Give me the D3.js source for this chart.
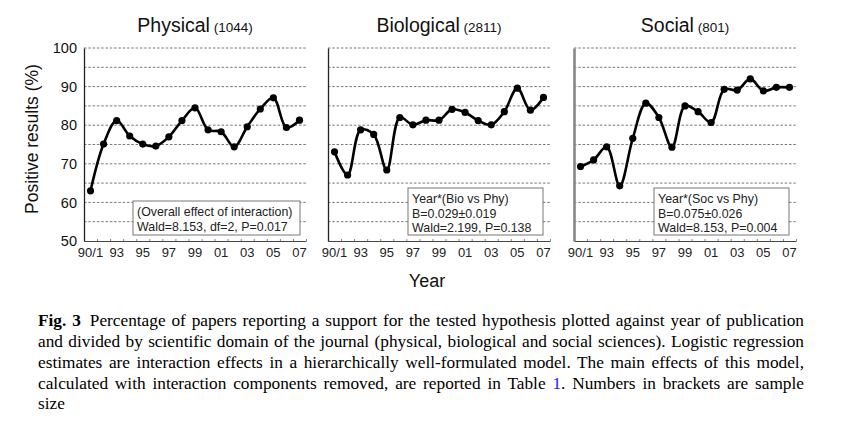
<!DOCTYPE html>
<html><head><meta charset="utf-8">
<script src="https://cdn.jsdelivr.net/npm/d3@7"></script>
<style>
html,body{margin:0;padding:0;background:#fff;}
svg{display:block;}
</style></head>
<body>
<svg id="chart" width="842" height="425"></svg>
<script>
const years = ["90/1","92","93","94","95","96","97","98","99","00","01","02","03","04","05","06","07"];
const tickLabels = ["90/1","93","95","97","99","01","03","05","07"];
const yTicks = [50,60,70,80,90,100];
const gridValues = [55,60,65,70,75,80,85,90,95,100];
const physical   = [63.0,75.1,81.2,77.2,75.1,74.6,77.0,81.2,84.5,78.8,78.3,74.4,79.6,84.2,87.1,79.4,81.3];
const biological = [73.1,67.1,78.8,77.6,68.4,82.0,80.1,81.3,81.3,84.1,83.3,81.2,80.1,83.5,89.6,83.9,87.2];
const social     = [69.3,71.0,74.4,64.3,76.6,85.7,82.0,74.3,85.0,83.5,80.7,89.3,89.1,92.0,88.9,89.8,89.8];
const panelNames = ["Physical","Biological","Social"];
const sampleSizes = ["(1044)","(2811)","(801)"];
const boxTexts = [
  ["(Overall effect of interaction)","Wald=8.153, df=2, P=0.017"],
  ["Year*(Bio vs Phy)","B=0.029\u00B10.019","Wald=2.199, P=0.138"],
  ["Year*(Soc vs Phy)","B=0.075\u00B10.026","Wald=8.153, P=0.004"]
];
const captionLines = [
  "Percentage of papers reporting a support for the tested hypothesis plotted against year of publication",
  "and divided by scientific domain of the journal (physical, biological and social sciences). Logistic regression",
  "estimates are interaction effects in a hierarchically well-formulated model. The main effects of this model,",
  "calculated with interaction components removed, are reported in Table ",
  "size"
];

const series = [physical, biological, social];
const svg = d3.select("#chart");
const sans = "'Liberation Sans', Arial, Helvetica, sans-serif";
const serif = "'Liberation Serif', 'Times New Roman', Times, serif";

const panelX = [84, 328, 574];
const panelW = 222;
const y = d3.scaleLinear().domain([50,100]).range([241,48]);

const boxes = [
  {x:133, y:201, w:167, h:34},
  {x:408, y:188, w:135, h:47},
  {x:654, y:188, w:135, h:47}
];

series.forEach((vals, p) => {
  const x0 = panelX[p];
  const x = d3.scaleLinear().domain([-0.5, years.length - 0.5]).range([x0, x0 + panelW]);
  const g = svg.append("g");

  g.selectAll("line.grid").data(gridValues).join("line")
    .attr("x1", x0).attr("x2", x0 + panelW)
    .attr("y1", d => y(d)).attr("y2", d => y(d))
    .attr("stroke", "#555").attr("stroke-width", 0.8)
    .attr("stroke-dasharray", "2.5,1.8");

  const xAxis = d3.axisBottom(x)
    .tickValues(d3.range(0, years.length + 1).map(i => i - 0.5))
    .tickSize(-2).tickSizeOuter(0).tickFormat("");
  const ax = g.append("g").attr("transform", `translate(0,${y(50)})`).call(xAxis);
  ax.select(".domain").attr("stroke", "#444").attr("stroke-width", 1.2);
  ax.selectAll(".tick line").attr("stroke", "#666").attr("stroke-width", 0.8);

  g.selectAll("text.xl").data(years.map((d,i)=>({d,i})).filter(o => tickLabels.includes(o.d))).join("text")
    .attr("x", o => x(o.i)).attr("y", 257)
    .attr("text-anchor", "middle")
    .attr("font-family", sans).attr("font-size", 13).attr("fill", "#222")
    .text(o => o.d);

  const yAxis = d3.axisLeft(y).tickValues(yTicks).tickSize(0).tickFormat(p === 0 ? d3.format("d") : "");
  const ay = g.append("g").attr("transform", `translate(${x0},0)`).call(yAxis);
  ay.select(".domain").attr("stroke", p === 2 ? "#888" : "#222").attr("stroke-width", p === 2 ? 2.6 : 1.3);
  ay.selectAll(".tick text").attr("font-family", sans).attr("font-size", 14.5).attr("fill", "#111").attr("dx", "-4");

  const b = boxes[p];
  g.append("rect").attr("x", b.x).attr("y", b.y).attr("width", b.w).attr("height", b.h)
    .attr("fill", "#fff").attr("stroke", "#777").attr("stroke-width", 1);
  g.selectAll("text.bt").data(boxTexts[p]).join("text")
    .attr("x", b.x + 4).attr("y", (d,i) => b.y + 15 + i * 14.5)
    .attr("font-family", sans).attr("font-size", 12.4).attr("fill", "#222")
    .text(d => d);

  const line = d3.line().x((d,i) => x(i)).y(d => y(d)).curve(d3.curveCatmullRom.alpha(0.5));
  g.append("path").datum(vals).attr("d", line)
    .attr("fill", "none").attr("stroke", "#000").attr("stroke-width", 2.6).attr("stroke-linejoin", "round");
  g.selectAll("circle").data(vals).join("circle")
    .attr("cx", (d,i) => x(i)).attr("cy", d => y(d)).attr("r", 3.6).attr("fill", "#000");

  const t = g.append("text").attr("x", x0 + panelW/2).attr("y", 32).attr("text-anchor", "middle")
    .attr("font-family", sans).attr("fill", "#111");
  t.append("tspan").attr("font-size", 19.5).text(panelNames[p]);
  t.append("tspan").attr("font-size", 13.5).text(" " + sampleSizes[p]);
});

svg.append("text").attr("transform", "translate(38,139) rotate(-90)")
  .attr("text-anchor", "middle").attr("font-family", sans).attr("font-size", 17.5).attr("fill", "#111")
  .text("Positive results (%)");

svg.append("text").attr("x", 427).attr("y", 287).attr("text-anchor", "middle")
  .attr("font-family", sans).attr("font-size", 18).attr("fill", "#111").text("Year");

const capX = 38, capRight = 804, capFont = 17.3;
const capBase = [326, 347, 368, 389, 409];
function justify(textSel, targetW) {
  textSel.attr("word-spacing", 0);
  const node = textSel.node();
  const w = node.getComputedTextLength();
  const str = node.textContent;
  const spaces = (str.match(/ /g) || []).length;
  if (spaces > 0) textSel.attr("word-spacing", (targetW - w) / spaces);
}
const l1 = svg.append("text").attr("x", capX).attr("y", capBase[0]).attr("font-family", serif).attr("font-size", capFont).attr("fill", "#000");
l1.append("tspan").attr("font-weight", "bold").text("Fig. 3");
l1.append("tspan").attr("dx", 9).text(captionLines[0]);
justify(l1, capRight - capX - 9);
for (let i = 1; i < 5; i++) {
  const t = svg.append("text").attr("x", capX).attr("y", capBase[i]).attr("font-family", serif).attr("font-size", capFont).attr("fill", "#000");
  if (i === 3) {
    t.append("tspan").text(captionLines[3]);
    t.append("tspan").attr("fill", "#1a1aff").text("1");
    t.append("tspan").text(". Numbers in brackets are sample");
    justify(t, capRight - capX);
  } else {
    t.text(captionLines[i]);
    if (i < 4) justify(t, capRight - capX);
  }
}
</script>
</body></html>
